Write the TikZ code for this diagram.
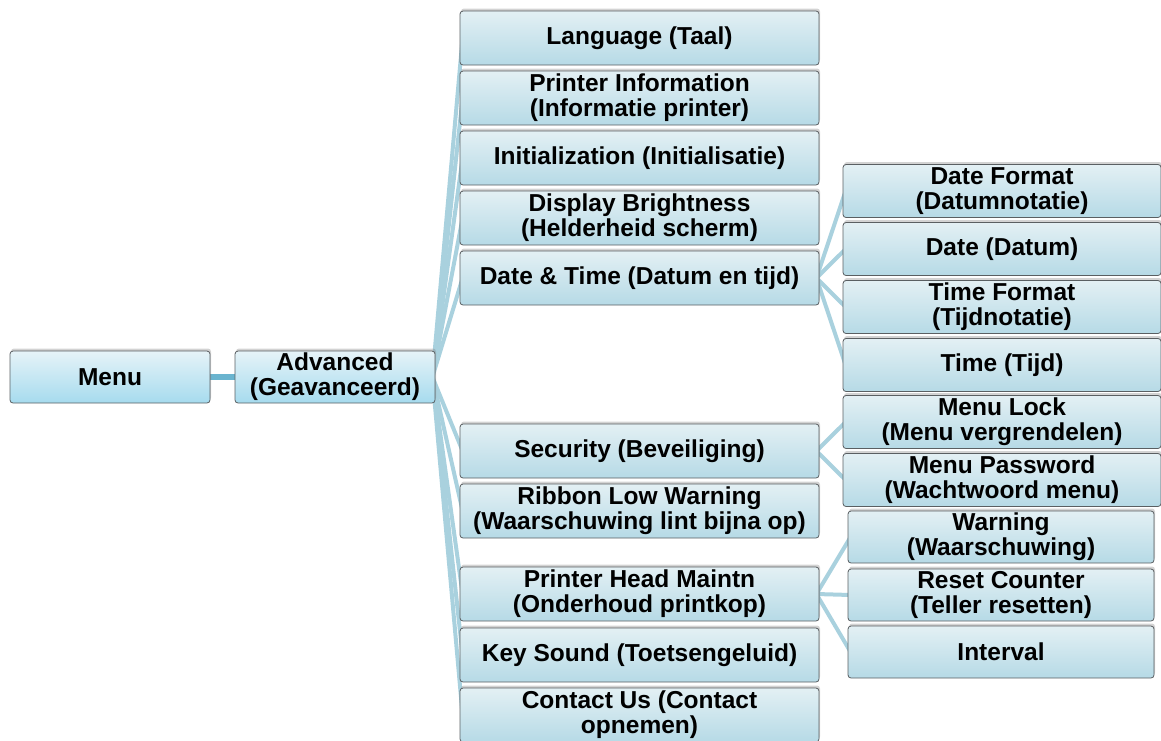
\documentclass[tikz,border=0pt]{standalone}
\usepackage{fontspec}
\setmainfont{Liberation Sans}
\usetikzlibrary{shadows,backgrounds}
\definecolor{lnk}{HTML}{A9D1DE}
\definecolor{lnkd}{HTML}{6AB4CF}
\definecolor{bdr}{HTML}{5A5F62}
\tikzset{
  box/.style={draw=bdr, line width=0.8pt, rounded corners=3pt, align=center,
    top color=#1top, bottom color=#1bot, inner sep=0pt,
    font=\bfseries\fontsize{24.5}{25}\selectfont,
    drop shadow={opacity=0.35, shadow xshift=1pt, shadow yshift=2.5pt}},
  box/.default=c,
  sz/.style 2 args={minimum width=#1, minimum height=#2},
  link/.style={draw=lnk, line width=4pt},
  linkd/.style={draw=lnkd, line width=6pt},
}
\definecolor{ctop}{HTML}{E3F0F4}
\definecolor{cbot}{HTML}{B6DAE6}
\definecolor{mtop}{HTML}{E6F3F8}
\definecolor{mbot}{HTML}{A6DBEE}
\begin{document}
\begin{tikzpicture}[x=1pt,y=-1pt]
\useasboundingbox (0,0) rectangle (1161,740);
% level 0/1
\node[box=m, sz={200}{52}] (menu) at (110,377) {Menu};
\node[box=m, sz={200}{52}] (adv) at (335,377) {Advanced\\(Geavanceerd)};
% level 2
\node[box, sz={359}{54}] (lang) at (639.5,38) {Language (Taal)};
\node[box, sz={359}{54}] (pinf) at (639.5,98) {Printer Information\\(Informatie printer)};
\node[box, sz={359}{54}] (init) at (639.5,158) {Initialization (Initialisatie)};
\node[box, sz={359}{54}] (disp) at (639.5,218) {Display Brightness\\(Helderheid scherm)};
\node[box, sz={359}{54}] (dt) at (639.5,278) {Date \& Time (Datum en tijd)};
\node[box, sz={359}{54}] (sec) at (639.5,451) {Security (Beveiliging)};
\node[box, sz={359}{54}] (rib) at (639.5,511) {Ribbon Low Warning\\(Waarschuwing lint bijna op)};
\node[box, sz={359}{54}] (phm) at (639.5,594) {Printer Head Maintn\\(Onderhoud printkop)};
\node[box, sz={359}{54}] (key) at (639.5,655) {Key Sound (Toetsengeluid)};
\node[box, sz={359}{54}] (cont) at (639.5,715) {Contact Us (Contact\\opnemen)};
% level 3: date & time
\node[box, sz={318}{53}] (dfmt) at (1002,191) {Date Format\\(Datumnotatie)};
\node[box, sz={318}{53}] (date) at (1002,249) {Date (Datum)};
\node[box, sz={318}{53}] (tfmt) at (1002,307) {Time Format\\(Tijdnotatie)};
\node[box, sz={318}{53}] (time) at (1002,365) {Time (Tijd)};
% level 3: security
\node[box, sz={318}{53}] (mlock) at (1002,422) {Menu Lock\\(Menu vergrendelen)};
\node[box, sz={318}{53}] (mpass) at (1002,480) {Menu Password\\(Wachtwoord menu)};
% level 3: printer head
\node[box, sz={306}{52}] (warn) at (1001,537) {Warning\\(Waarschuwing)};
\node[box, sz={306}{52}] (reset) at (1001,595) {Reset Counter\\(Teller resetten)};
\node[box, sz={306}{52}] (intv) at (1001,652) {Interval};
% connectors
\begin{scope}[on background layer]
\draw[linkd] (menu.east) -- (adv.east);
\foreach \c in {lang,pinf,init,disp,dt,sec,rib,phm,key,cont}
  \draw[link] ([xshift=-3pt]adv.east) -- ([xshift=3pt]\c.west);
\foreach \c in {dfmt,date,tfmt,time}
  \draw[link] ([xshift=-3pt]dt.east) -- ([xshift=3pt]\c.west);
\foreach \c in {mlock,mpass}
  \draw[link] ([xshift=-3pt]sec.east) -- ([xshift=3pt]\c.west);
\foreach \c in {warn,reset,intv}
  \draw[link] ([xshift=-3pt]phm.east) -- ([xshift=3pt]\c.west);
\end{scope}
\end{tikzpicture}
\end{document}
